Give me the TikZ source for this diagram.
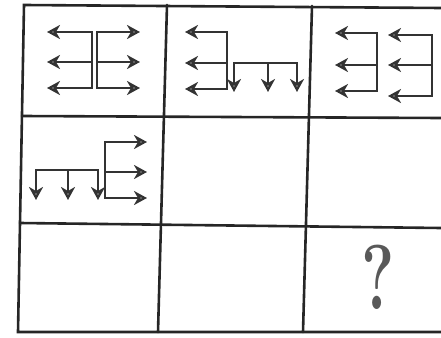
\documentclass[tikz,border=0pt]{standalone}
\usepackage{tikz}
\usetikzlibrary{arrows.meta}
\tikzstyle{gridline} = [line width=2.6pt, black!85, line cap=round]
\tikzstyle{arrow} = [line width=2.6pt, black!80, line join=miter, >={Stealth[length=13pt,width=14pt,inset=4pt,fill=black!30]}]
\tikzstyle{question} = [font=\fontsize{92}{92}\selectfont\bfseries, text=black!65, xscale=0.68, inner sep=0pt]

\begin{document}
\begin{tikzpicture}[x=1pt, y=-1pt]
        \useasboundingbox (0,0) rectangle (441,337);

        % corners of the grid (the scan is a little skewed)
        \coordinate (tl) at (24,5);
        \coordinate (tr) at (441,8);
        \coordinate (bl) at (18,332);
        \coordinate (br) at (441,332);
        \coordinate (c1t) at (167,5);
        \coordinate (c1b) at (158,332);
        \coordinate (c2t) at (312,6);
        \coordinate (c2b) at (303,332);
        \coordinate (r1l) at (22,116);
        \coordinate (r1r) at (441,118);
        \coordinate (r2l) at (20,223);
        \coordinate (r2r) at (441,228);

        \draw [gridline] (tr) -- (tl) -- (bl) -- (br);
        \draw [gridline] (c1t) -- (c1b);
        \draw [gridline] (c2t) -- (c2b);
        \draw [gridline] (r1l) -- (r1r);
        \draw [gridline] (r2l) -- (r2r);

        % row 1
        \draw [arrow, <->] (47,32) -- (92,32) -- (92,88) -- (47,88);
        \draw [arrow, ->] (92,62) -- (47,62);
        \draw [arrow, <->] (140,32) -- (97,32) -- (97,88) -- (140,88);
        \draw [arrow, ->] (97,62) -- (140,62);

        \draw [arrow, <->] (185,32) -- (227,32) -- (227,89) -- (185,89);
        \draw [arrow, ->] (227,63) -- (185,63);
        \draw [arrow, <->] (234,92) -- (234,63) -- (297,63) -- (297,92);
        \draw [arrow, ->] (268,63) -- (268,92);

        \draw [arrow, <->] (335,33) -- (377,33) -- (377,91) -- (335,91);
        \draw [arrow, ->] (377,65) -- (335,65);
        \draw [arrow, <->] (388,35) -- (432,35) -- (432,96) -- (388,96);
        \draw [arrow, ->] (432,65) -- (388,65);

        % row 2
        \draw [arrow, <->] (147,142) -- (105,142) -- (105,198) -- (147,198);
        \draw [arrow, ->] (105,172) -- (147,172);
        \draw [arrow, <->] (36,200) -- (36,170) -- (98,170) -- (98,200);
        \draw [arrow, ->] (68,170) -- (68,200);

        % row 3
        \node [question] (qmark) at (378,277) {?};
\end{tikzpicture}
\end{document}
